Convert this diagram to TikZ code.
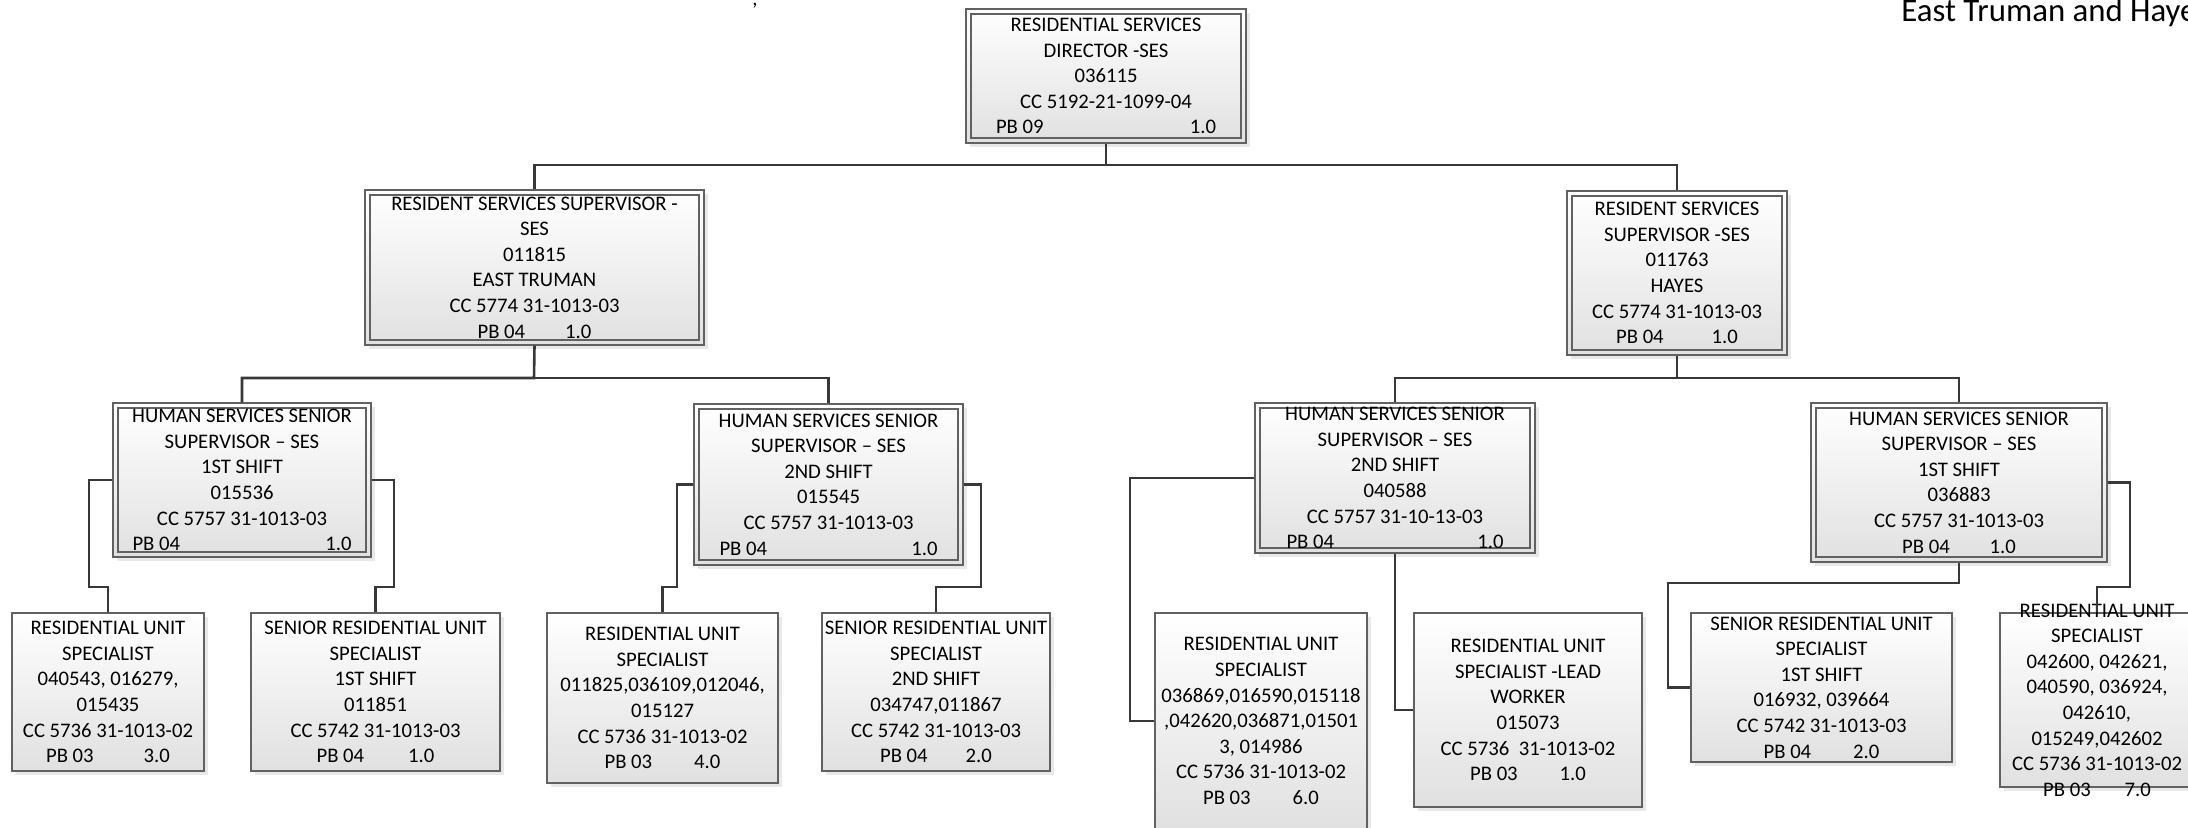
\documentclass[tikz,border=0pt]{standalone}
\usepackage{fontspec}
\setmainfont{Carlito}
\usepackage{tikz}
\usetikzlibrary{shadows}
\definecolor{boxline}{gray}{0.38}
\definecolor{linkgray}{gray}{0.22}
\definecolor{boxbottom}{gray}{0.88}
\newcommand{\pbline}[3][21pt]{PB #2\hspace{#1}#3}

\begin{document}
\begin{tikzpicture}[x=0.5pt,y=-0.5pt,
    wh/.style 2 args={minimum width=#1*0.5pt,minimum height=#2*0.5pt},
    post/.style={draw=boxline,line width=0.6pt,top color=white,bottom color=boxbottom,
      drop shadow={shadow xshift=2pt,shadow yshift=-2pt,fill=black!18},
      inner sep=0pt,align=center,font=\fontsize{10.35}{12.8}\selectfont},
    postdbl/.style={post,path picture={\draw[boxline,line width=0.6pt]
      ([shift={(2.5pt,-2.5pt)}]path picture bounding box.north west) rectangle
      ([shift={(-2.5pt,2.5pt)}]path picture bounding box.south east);}},
    txt/.style={inner sep=0pt,align=center,font=\fontsize{10.35}{12.8}\selectfont},
    link/.style={linkgray,line width=1.3pt}]
  \useasboundingbox (0,0) rectangle (2188,828);
  %Title
  \node[anchor=base west,inner sep=0pt,font=\fontsize{16.4}{19}\selectfont] (title) at (1901,22) {East Truman and Hayes};
  \node[anchor=base,inner sep=0pt,font=\fontsize{10.35}{12.8}\selectfont] (mark) at (755,6) {,};
  %Director
  \node[postdbl,wh={280}{134}] (dir) at (1106,76) {RESIDENTIAL SERVICES\\DIRECTOR -SES\\036115\\CC 5192-21-1099-04\\\makebox[110pt]{PB 09\hfill 1.0}};
  %Supervisors
  \node[postdbl,wh={339}{155}] (et) at (534.5,267.5) {RESIDENT SERVICES SUPERVISOR -\\SES\\011815\\EAST TRUMAN\\CC 5774 31-1013-03\\\pbline[20pt]{04}{1.0}};
  \node[postdbl,wh={220}{164}] (hy) at (1677,273) {RESIDENT SERVICES\\SUPERVISOR -SES\\011763\\HAYES\\CC 5774 31-1013-03\\\pbline[24pt]{04}{1.0}};
  %Senior supervisors
  \node[postdbl,wh={258}{154}] (s1) at (242,480) {HUMAN SERVICES SENIOR\\SUPERVISOR – SES\\1ST SHIFT\\015536\\CC 5757 31-1013-03\\\makebox[109.5pt]{PB 04\hfill 1.0}};
  \node[postdbl,wh={269}{161}] (s2) at (828.5,484.5) {HUMAN SERVICES SENIOR\\SUPERVISOR – SES\\2ND SHIFT\\015545\\CC 5757 31-1013-03\\\makebox[109pt]{PB 04\hfill 1.0}};
  \node[postdbl,wh={280}{150}] (s3) at (1395,478) {HUMAN SERVICES SENIOR\\SUPERVISOR – SES\\2ND SHIFT\\040588\\CC 5757 31-10-13-03\\\makebox[108.5pt]{PB 04\hfill 1.0}};
  \node[postdbl,wh={296}{159}] (s4) at (1959,482.5) {HUMAN SERVICES SENIOR\\SUPERVISOR – SES\\1ST SHIFT\\036883\\CC 5757 31-1013-03\\\pbline[20pt]{04}{1.0}};
  %Unit staff
  \node[post,wh={192}{158}] (u1) at (108,692) {RESIDENTIAL UNIT\\SPECIALIST\\040543, 016279,\\015435\\CC 5736 31-1013-02\\\pbline[25pt]{03}{3.0}};
  \node[post,wh={249}{158}] (u2) at (375.5,692) {SENIOR RESIDENTIAL UNIT\\SPECIALIST\\1ST SHIFT\\011851\\CC 5742 31-1013-03\\\pbline[22pt]{04}{1.0}};
  \node[post,wh={231}{170}] (u3) at (662.5,698) {RESIDENTIAL UNIT\\SPECIALIST\\011825,036109,012046,\\015127\\CC 5736 31-1013-02\\\pbline{03}{4.0}};
  \node[post,wh={228}{158}] (u4) at (936,692) {SENIOR RESIDENTIAL UNIT\\SPECIALIST\\2ND SHIFT\\034747,011867\\CC 5742 31-1013-03\\\pbline[19pt]{04}{2.0}};
  \node[post,wh={212}{216}] (u5) at (1261,721) {RESIDENTIAL UNIT\\SPECIALIST\\036869,016590,015118\\,042620,036871,01501\\3, 014986\\CC 5736 31-1013-02\\\pbline{03}{6.0}};
  \node[post,wh={228}{194}] (u6) at (1528,710) {RESIDENTIAL UNIT\\SPECIALIST -LEAD\\WORKER\\015073\\CC 5736\ \ 31-1013-02\\\pbline{03}{1.0}};
  \node[post,wh={261}{149}] (u7) at (1821.5,687.5) {SENIOR RESIDENTIAL UNIT\\SPECIALIST\\1ST SHIFT\\016932, 039664\\CC 5742 31-1013-03\\\pbline{04}{2.0}};
  \node[post,wh={194}{174}] (u8) at (2097,700) {};
  \node[txt] (u8t) at (u8) {RESIDENTIAL UNIT\\SPECIALIST\\042600, 042621,\\040590, 036924,\\042610,\\015249,042602\\CC 5736 31-1013-02\\\pbline[17pt]{03}{7.0}};
  %Elbows
  \coordinate (t0) at (1106,165);
  \coordinate (e0) at (534,378);
  \coordinate (h0) at (1677,378);
  \coordinate (a1) at (89,587);
  \coordinate (a2) at (394,587);
  \coordinate (b1) at (677,587);
  \coordinate (b2) at (981,587);
  \coordinate (c1) at (1130,721);
  \coordinate (d1) at (1668,583);
  \coordinate (d2) at (2130,587);
  %Draw lines
  \draw[link] (dir.south) -- (t0) -| (et.north);
  \draw[link] (t0) -| (hy.north);
  \draw[link] (et.south) -- (e0) -| (s1.north);
  \draw[link] (e0) -| (s2.north);
  \draw[link] (hy.south) -- (h0) -| (s3.north);
  \draw[link] (h0) -| (s4.north);
  \draw[link] (s1.west) -| (a1) -| (u1.north);
  \draw[link] (s1.east) -| (a2) -| (u2.north);
  \draw[link] (s2.west) -| (b1) -| (u3.north);
  \draw[link] (s2.east) -| (b2) -| (u4.north);
  \draw[link] (s3.west) -| (c1) -- (u5.west);
  \draw[link] (s3.south) |- (u6.west);
  \draw[link] (s4.south) |- (d1) |- (u7.west);
  \draw[link] (s4.east) -| (d2) -| (u8.north);
\end{tikzpicture}
\end{document}
